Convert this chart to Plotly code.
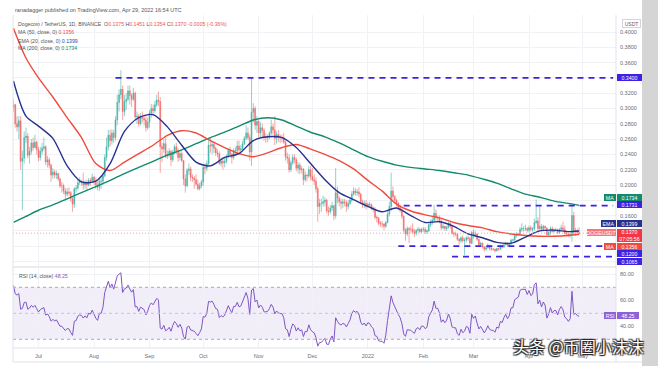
import plotly.graph_objects as go
import pandas as pd

# ---------------- data ----------------
START_DATE = "2021-06-01"
FIRST_OPEN = 0.322

close_2021_06 = [0.383, 0.421, 0.405, 0.372, 0.355, 0.361, 0.336, 0.335, 0.335, 0.318,
                 0.321, 0.316, 0.331, 0.326, 0.318, 0.301, 0.305, 0.280, 0.276, 0.284,
                 0.231, 0.235, 0.262, 0.264, 0.239, 0.244, 0.255, 0.249, 0.256, 0.246]
high_2021_06 = [0.40, 0.43, 0.44, 0.41, 0.38, 0.37, 0.37, 0.34, 0.345, 0.34,
                0.33, 0.33, 0.335, 0.34, 0.335, 0.32, 0.312, 0.306, 0.29, 0.29,
                0.29, 0.245, 0.27, 0.275, 0.268, 0.25, 0.26, 0.262, 0.266, 0.258]
low_2021_06 = [0.36, 0.38, 0.40, 0.36, 0.34, 0.35, 0.33, 0.30, 0.31, 0.31,
               0.31, 0.30, 0.31, 0.32, 0.31, 0.295, 0.295, 0.275, 0.27, 0.26,
               0.22, 0.167, 0.228, 0.255, 0.235, 0.228, 0.24, 0.245, 0.248, 0.24]

close_2021_07 = [0.236, 0.244, 0.248, 0.250, 0.230, 0.233, 0.226, 0.213, 0.217, 0.213,
                 0.215, 0.208, 0.199, 0.199, 0.192, 0.188, 0.191, 0.190, 0.182, 0.175,
                 0.195, 0.196, 0.203, 0.205, 0.204, 0.200, 0.203, 0.200, 0.206, 0.205, 0.210]
high_2021_07 = [0.250, 0.250, 0.255, 0.262, 0.252, 0.238, 0.236, 0.228, 0.222, 0.220,
                0.219, 0.216, 0.210, 0.204, 0.202, 0.196, 0.196, 0.197, 0.192, 0.185,
                0.197, 0.200, 0.207, 0.210, 0.207, 0.216, 0.206, 0.207, 0.209, 0.209, 0.215]
low_2021_07 = [0.231, 0.232, 0.240, 0.245, 0.226, 0.223, 0.222, 0.204, 0.208, 0.209,
               0.208, 0.205, 0.196, 0.190, 0.188, 0.180, 0.185, 0.186, 0.178, 0.165,
               0.170, 0.190, 0.193, 0.200, 0.199, 0.194, 0.195, 0.193, 0.198, 0.199, 0.203]

close_2021_08 = [0.204, 0.200, 0.197, 0.205, 0.205, 0.212, 0.236, 0.250, 0.265, 0.258,
                 0.268, 0.262, 0.285, 0.308, 0.318, 0.325, 0.296, 0.309, 0.312, 0.323,
                 0.317, 0.312, 0.320, 0.289, 0.290, 0.280, 0.290, 0.287, 0.285, 0.275, 0.282]
high_2021_08 = [0.212, 0.210, 0.205, 0.208, 0.210, 0.215, 0.240, 0.262, 0.272, 0.272,
                0.273, 0.272, 0.290, 0.318, 0.325, 0.350, 0.330, 0.318, 0.320, 0.330,
                0.330, 0.320, 0.327, 0.322, 0.296, 0.293, 0.294, 0.296, 0.292, 0.290, 0.288]
low_2021_08 = [0.200, 0.195, 0.193, 0.192, 0.195, 0.200, 0.210, 0.232, 0.245, 0.250,
               0.253, 0.255, 0.258, 0.278, 0.296, 0.312, 0.285, 0.290, 0.298, 0.310,
               0.305, 0.302, 0.310, 0.285, 0.280, 0.276, 0.278, 0.282, 0.278, 0.270, 0.272]

close_2021_09 = [0.294, 0.300, 0.297, 0.305, 0.311, 0.309, 0.250, 0.247, 0.254, 0.238,
                 0.240, 0.244, 0.233, 0.243, 0.250, 0.245, 0.236, 0.241, 0.232, 0.208,
                 0.199, 0.219, 0.221, 0.210, 0.209, 0.207, 0.201, 0.195, 0.199, 0.204]
high_2021_09 = [0.298, 0.306, 0.305, 0.310, 0.318, 0.322, 0.315, 0.255, 0.260, 0.262,
                0.245, 0.248, 0.246, 0.246, 0.253, 0.255, 0.248, 0.246, 0.244, 0.232,
                0.214, 0.222, 0.228, 0.224, 0.214, 0.212, 0.214, 0.207, 0.203, 0.207]
low_2021_09 = [0.275, 0.288, 0.290, 0.294, 0.302, 0.303, 0.216, 0.230, 0.242, 0.235,
               0.234, 0.236, 0.225, 0.230, 0.240, 0.240, 0.230, 0.232, 0.230, 0.200,
               0.190, 0.197, 0.213, 0.205, 0.204, 0.195, 0.199, 0.193, 0.193, 0.196]

close_2021_10 = [0.223, 0.222, 0.228, 0.252, 0.251, 0.253, 0.248, 0.242, 0.241, 0.228,
                 0.231, 0.229, 0.231, 0.237, 0.245, 0.240, 0.236, 0.245, 0.245, 0.251,
                 0.246, 0.247, 0.254, 0.261, 0.268, 0.262, 0.243, 0.295, 0.300, 0.278, 0.283]
high_2021_10 = [0.228, 0.228, 0.232, 0.258, 0.262, 0.258, 0.257, 0.250, 0.247, 0.244,
                0.236, 0.236, 0.236, 0.240, 0.248, 0.250, 0.242, 0.248, 0.250, 0.258,
                0.258, 0.252, 0.258, 0.264, 0.278, 0.275, 0.266, 0.341, 0.307, 0.303, 0.290]
low_2021_10 = [0.199, 0.214, 0.218, 0.226, 0.242, 0.240, 0.242, 0.238, 0.236, 0.226,
               0.224, 0.220, 0.223, 0.228, 0.235, 0.236, 0.228, 0.233, 0.238, 0.240,
               0.240, 0.240, 0.245, 0.252, 0.259, 0.259, 0.232, 0.225, 0.282, 0.272, 0.268]

close_2021_11 = [0.268, 0.275, 0.271, 0.262, 0.262, 0.263, 0.268, 0.276, 0.272, 0.261,
                 0.266, 0.263, 0.262, 0.262, 0.256, 0.237, 0.235, 0.220, 0.229, 0.236,
                 0.233, 0.222, 0.226, 0.220, 0.221, 0.207, 0.213, 0.212, 0.220, 0.211]
high_2021_11 = [0.285, 0.282, 0.280, 0.274, 0.268, 0.266, 0.270, 0.285, 0.280, 0.290,
                0.270, 0.272, 0.266, 0.266, 0.268, 0.258, 0.242, 0.240, 0.232, 0.240,
                0.240, 0.236, 0.230, 0.229, 0.225, 0.222, 0.218, 0.215, 0.225, 0.225]
low_2021_11 = [0.262, 0.262, 0.262, 0.258, 0.255, 0.256, 0.260, 0.265, 0.266, 0.252,
               0.254, 0.256, 0.255, 0.256, 0.254, 0.232, 0.228, 0.216, 0.217, 0.226,
               0.228, 0.218, 0.215, 0.214, 0.215, 0.200, 0.204, 0.205, 0.209, 0.206]

close_2021_12 = [0.207, 0.205, 0.195, 0.172, 0.176, 0.176, 0.178, 0.180, 0.166, 0.165,
                 0.170, 0.173, 0.160, 0.190, 0.183, 0.178, 0.176, 0.178, 0.177, 0.172,
                 0.176, 0.180, 0.188, 0.192, 0.190, 0.191, 0.188, 0.178, 0.174, 0.176, 0.172]
high_2021_12 = [0.222, 0.214, 0.210, 0.198, 0.182, 0.182, 0.186, 0.184, 0.182, 0.172,
                0.174, 0.178, 0.174, 0.222, 0.198, 0.186, 0.182, 0.182, 0.182, 0.180,
                0.180, 0.184, 0.192, 0.197, 0.196, 0.195, 0.197, 0.190, 0.181, 0.180, 0.180]
low_2021_12 = [0.205, 0.200, 0.190, 0.152, 0.162, 0.165, 0.172, 0.172, 0.163, 0.160,
               0.162, 0.166, 0.154, 0.156, 0.176, 0.172, 0.168, 0.170, 0.172, 0.165,
               0.168, 0.174, 0.178, 0.186, 0.186, 0.186, 0.184, 0.175, 0.170, 0.170, 0.168]

close_2022_01 = [0.175, 0.174, 0.170, 0.168, 0.158, 0.157, 0.150, 0.149, 0.149, 0.146,
                 0.151, 0.162, 0.172, 0.192, 0.185, 0.180, 0.176, 0.171, 0.167, 0.159,
                 0.141, 0.136, 0.143, 0.142, 0.142, 0.139, 0.137, 0.141, 0.142, 0.139, 0.142]
high_2022_01 = [0.177, 0.178, 0.176, 0.172, 0.171, 0.160, 0.158, 0.153, 0.153, 0.150,
                0.153, 0.166, 0.178, 0.216, 0.198, 0.187, 0.182, 0.178, 0.174, 0.170,
                0.160, 0.144, 0.146, 0.145, 0.147, 0.150, 0.143, 0.142, 0.145, 0.144, 0.144]
low_2022_01 = [0.170, 0.170, 0.167, 0.164, 0.155, 0.151, 0.147, 0.145, 0.144, 0.141,
               0.144, 0.150, 0.159, 0.166, 0.180, 0.176, 0.172, 0.167, 0.164, 0.156,
               0.138, 0.127, 0.133, 0.124, 0.137, 0.136, 0.132, 0.134, 0.138, 0.137, 0.137]

close_2022_02 = [0.142, 0.139, 0.140, 0.148, 0.151, 0.154, 0.163, 0.157, 0.157, 0.153,
                 0.144, 0.146, 0.143, 0.145, 0.150, 0.146, 0.137, 0.136, 0.136, 0.129,
                 0.127, 0.131, 0.127, 0.128, 0.131, 0.130, 0.124, 0.138]
high_2022_02 = [0.145, 0.145, 0.142, 0.150, 0.155, 0.158, 0.174, 0.168, 0.160, 0.160,
                0.155, 0.149, 0.147, 0.147, 0.152, 0.152, 0.148, 0.139, 0.139, 0.137,
                0.131, 0.133, 0.134, 0.131, 0.133, 0.134, 0.132, 0.140]
low_2022_02 = [0.139, 0.136, 0.136, 0.138, 0.145, 0.148, 0.152, 0.152, 0.152, 0.150,
               0.141, 0.142, 0.140, 0.140, 0.143, 0.143, 0.135, 0.132, 0.133, 0.127,
               0.122, 0.124, 0.125, 0.1085, 0.125, 0.127, 0.122, 0.123]

close_2022_03 = [0.134, 0.136, 0.129, 0.122, 0.124, 0.119, 0.116, 0.118, 0.121, 0.117,
                 0.116, 0.116, 0.114, 0.117, 0.116, 0.120, 0.119, 0.122, 0.124, 0.121,
                 0.123, 0.128, 0.128, 0.134, 0.135, 0.136, 0.142, 0.143, 0.143, 0.143, 0.141]
high_2022_03 = [0.142, 0.140, 0.137, 0.130, 0.126, 0.125, 0.120, 0.120, 0.124, 0.122,
                0.119, 0.118, 0.117, 0.118, 0.118, 0.122, 0.122, 0.124, 0.126, 0.125,
                0.124, 0.130, 0.130, 0.137, 0.138, 0.137, 0.145, 0.150, 0.146, 0.148, 0.145]
low_2022_03 = [0.130, 0.132, 0.127, 0.120, 0.121, 0.117, 0.113, 0.114, 0.117, 0.114,
               0.114, 0.114, 0.112, 0.113, 0.114, 0.115, 0.117, 0.118, 0.121, 0.119,
               0.120, 0.122, 0.126, 0.127, 0.131, 0.133, 0.135, 0.139, 0.139, 0.140, 0.138]

close_2022_04 = [0.144, 0.142, 0.143, 0.151, 0.153, 0.143, 0.146, 0.142, 0.146, 0.144,
                 0.135, 0.138, 0.143, 0.139, 0.141, 0.141, 0.138, 0.142, 0.144, 0.142,
                 0.137, 0.136, 0.134, 0.1355, 0.160, 0.139, 0.140, 0.1375, 0.1370]
high_2022_04 = [0.147, 0.147, 0.145, 0.156, 0.181, 0.158, 0.172, 0.149, 0.148, 0.147,
                0.144, 0.141, 0.146, 0.146, 0.143, 0.144, 0.143, 0.144, 0.148, 0.152,
                0.147, 0.140, 0.138, 0.138, 0.175, 0.165, 0.144, 0.143, 0.1451]
low_2022_04 = [0.138, 0.139, 0.139, 0.140, 0.149, 0.140, 0.141, 0.140, 0.141, 0.142,
               0.132, 0.132, 0.135, 0.138, 0.138, 0.139, 0.136, 0.136, 0.140, 0.140,
               0.135, 0.134, 0.132, 0.131, 0.126, 0.135, 0.134, 0.135, 0.1354]

# moving averages at sample dates
ma_dates = ["2021-06-17", "2021-06-24", "2021-07-01", "2021-07-09", "2021-07-17", "2021-07-25",
            "2021-08-02", "2021-08-10", "2021-08-18", "2021-08-26", "2021-09-03", "2021-09-11",
            "2021-09-19", "2021-09-27", "2021-10-05", "2021-10-13", "2021-10-21", "2021-10-29",
            "2021-11-06", "2021-11-14", "2021-11-22", "2021-11-30", "2021-12-08", "2021-12-16",
            "2021-12-24", "2022-01-01", "2022-01-09", "2022-01-17", "2022-01-25", "2022-02-02",
            "2022-02-10", "2022-02-18", "2022-02-26", "2022-03-06", "2022-03-14", "2022-03-22",
            "2022-03-30", "2022-04-07", "2022-04-15", "2022-04-23", "2022-04-29"]
ma50_values = [0.405, 0.366, 0.340, 0.315, 0.288, 0.262, 0.228, 0.219, 0.230, 0.241,
               0.252, 0.265, 0.271, 0.268, 0.258, 0.249, 0.241, 0.237, 0.242, 0.249,
               0.253, 0.247, 0.240, 0.232, 0.221, 0.206, 0.192, 0.175, 0.166, 0.161,
               0.157, 0.151, 0.147, 0.144, 0.139, 0.136, 0.134, 0.133, 0.133, 0.134, 0.1356]
ema20_values = [0.336, 0.290, 0.277, 0.261, 0.225, 0.204, 0.205, 0.228, 0.270, 0.288,
                0.292, 0.276, 0.252, 0.230, 0.225, 0.236, 0.241, 0.258, 0.263, 0.262,
                0.249, 0.228, 0.207, 0.190, 0.181, 0.172, 0.165, 0.170, 0.160, 0.151,
                0.152, 0.146, 0.136, 0.131, 0.125, 0.124, 0.132, 0.140, 0.141, 0.139, 0.1399]
ma200_values = [0.151, 0.159, 0.167, 0.174, 0.182, 0.190, 0.198, 0.206, 0.215, 0.223,
                0.231, 0.239, 0.246, 0.254, 0.262, 0.269, 0.277, 0.285, 0.288, 0.285,
                0.277, 0.269, 0.263, 0.255, 0.246, 0.237, 0.231, 0.226, 0.223, 0.221,
                0.219, 0.216, 0.213, 0.208, 0.2025, 0.195, 0.188, 0.184, 0.179, 0.176, 0.1734]
rsi_last_shown = 48.25   # value printed on the chart's RSI legend/scale

# horizontal levels drawn on the chart
level_prices = [0.34, 0.1731, 0.12, 0.1065]
level_starts = ["2021-08-13", "2022-01-21", "2022-01-18", "2022-02-17"]

month_ticks = ["2021-07-01", "2021-08-01", "2021-09-01", "2021-10-01", "2021-11-01", "2021-12-01",
               "2022-01-01", "2022-02-01", "2022-03-01", "2022-04-01", "2022-05-01"]
month_labels = ["Jul", "Aug", "Sep", "Oct", "Nov", "Dec", "2022", "Feb", "Mar", "Apr", "May"]

price_ticks = [0.10, 0.12, 0.14, 0.16, 0.18, 0.20, 0.22, 0.24, 0.26, 0.28, 0.30, 0.32, 0.34, 0.36, 0.38, 0.40]
price_tick_text = ["", "", "", "0.1600", "", "0.2000", "0.2200", "0.2400", "0.2600", "0.2800",
                   "0.3000", "0.3200", "", "0.3600", "0.3800", "0.4000"]
rsi_ticks = [40, 60, 80]
rsi_tick_text = ["40.00", "60.00", "80.00"]
countdown_text = "07:05:56"

# ---------------- assemble ----------------
closes = (close_2021_06 + close_2021_07 + close_2021_08 + close_2021_09 + close_2021_10 +
          close_2021_11 + close_2021_12 + close_2022_01 + close_2022_02 + close_2022_03 + close_2022_04)
highs_raw = (high_2021_06 + high_2021_07 + high_2021_08 + high_2021_09 + high_2021_10 +
             high_2021_11 + high_2021_12 + high_2022_01 + high_2022_02 + high_2022_03 + high_2022_04)
lows_raw = (low_2021_06 + low_2021_07 + low_2021_08 + low_2021_09 + low_2021_10 +
            low_2021_11 + low_2021_12 + low_2022_01 + low_2022_02 + low_2022_03 + low_2022_04)
dates = pd.date_range(START_DATE, periods=len(closes), freq="D")
opens = [FIRST_OPEN] + closes[:-1]
highs = [max(h, o, c) for h, o, c in zip(highs_raw, opens, closes)]
lows = [min(l, o, c) for l, o, c in zip(lows_raw, opens, closes)]

s = pd.Series(closes)
d = s.diff()
avg_gain = d.clip(lower=0).ewm(alpha=1 / 14, adjust=False).mean()
avg_loss = (-d.clip(upper=0)).ewm(alpha=1 / 14, adjust=False).mean()
rsi = 100 - 100 / (1 + avg_gain / avg_loss)

# ---------------- styling ----------------
UP, DOWN = "#26a69a", "#ef5350"
C_MA50, C_EMA20, C_MA200 = "#ef4b3e", "#27318f", "#138a6c"
C_LEVEL = "#3c22e2"
C_RSI = "#7e57c2"
C_RSI_TAG = "#8d62d9"
TXT = "#5d606b"
FONT = "Liberation Sans, Arial, sans-serif"

L, R, T, B = 13, 616, 15, 348


def px(x):
    return (x - L) / (R - L)


def py(y):
    return (B - y) / (B - T)


X_RANGE = ["2021-06-16 18:00:00", "2022-05-19 14:24:00"]
PRICE_RANGE = [0.094118, 0.422222]
RSI_RANGE = [23.3, 84.85]

fig = go.Figure()
fig.add_trace(go.Candlestick(
    x=dates, open=opens, high=highs, low=lows, close=closes,
    increasing=dict(line=dict(color=UP, width=0.6), fillcolor=UP),
    decreasing=dict(line=dict(color=DOWN, width=0.6), fillcolor=DOWN),
    xaxis="x", yaxis="y", hoverinfo="skip", showlegend=False, opacity=0.85))

for vals, col in [(ma200_values, C_MA200), (ma50_values, C_MA50), (ema20_values, C_EMA20)]:
    fig.add_trace(go.Scatter(x=ma_dates, y=vals, mode="lines", xaxis="x", yaxis="y",
                             line=dict(color=col, width=1.4, shape="spline", smoothing=0.8),
                             hoverinfo="skip", showlegend=False))

fig.add_trace(go.Scatter(x=dates, y=rsi, mode="lines", xaxis="x2", yaxis="y2",
                         line=dict(color=C_RSI, width=1), hoverinfo="skip", showlegend=False))

shapes = []
# RSI band and guides
shapes.append(dict(type="rect", xref="paper", x0=0, x1=1, yref="y2", y0=30, y1=70,
                   fillcolor="rgba(126,87,194,0.10)", line=dict(width=0), layer="below"))
for lv, colr in [(70, "#a8abb5"), (50, "#c3c5cc"), (30, "#a8abb5")]:
    shapes.append(dict(type="line", xref="paper", x0=0, x1=1, yref="y2", y0=lv, y1=lv,
                       line=dict(color=colr, width=1, dash="3px,3px")))
# last price dotted line
shapes.append(dict(type="line", xref="paper", x0=0, x1=1, yref="y", y0=closes[-1], y1=closes[-1],
                   line=dict(color="#f4a3a3", width=1, dash="1px,2px")))
# horizontal levels
for lp, ls in zip(level_prices, level_starts):
    shapes.append(dict(type="line", xref="x", x0=ls, x1="2022-05-18", yref="y", y0=lp, y1=lp,
                       line=dict(color=C_LEVEL, width=1.7, dash="6px,5px")))
# pane separators / borders
shapes.append(dict(type="line", xref="paper", x0=0, x1=1, yref="paper", y0=py(267), y1=py(267),
                   line=dict(color="#d6d9e0", width=1)))
shapes.append(dict(type="line", xref="paper", x0=1, x1=1, yref="paper", y0=py(362), y1=1,
                   line=dict(color="#e0e3eb", width=1)))
shapes.append(dict(type="line", xref="paper", x0=0, x1=1, yref="paper", y0=0, y1=0,
                   line=dict(color="#e0e3eb", width=1)))
shapes.append(dict(type="line", xref="paper", x0=px(13), x1=px(642), yref="paper", y0=py(362), y1=py(362),
                   line=dict(color="#e0e3eb", width=1)))
shapes.append(dict(type="line", xref="paper", x0=0, x1=0, yref="paper", y0=py(362), y1=1,
                   line=dict(color="#e0e3eb", width=1)))
# grey page edge on the right
shapes.append(dict(type="rect", xref="paper", x0=px(642), x1=px(660), yref="paper", y0=py(368), y1=py(-2),
                   fillcolor="#d5d5d5", line=dict(width=0)))

ann = []


def label(text, x, y, bg, anchor, w, h=7, fc="white", size=5.2, border=None):
    ann.append(dict(text=text, xref="paper", yref="paper", x=px(x), y=py(y), xanchor=anchor,
                    yanchor="middle", showarrow=False, bgcolor=bg, width=w, height=h,
                    borderpad=0, align="center", bordercolor=border or bg, borderwidth=0 if border is None else 1,
                    font=dict(family=FONT, size=size, color=fc)))


o, h, l, c = opens[-1], highs[-1], lows[-1], closes[-1]
chg = c - closes[-2]
pct = chg / closes[-2] * 100
red = DOWN if chg < 0 else UP


def span(v, col):
    return f'<span style="color:{col}">{v}</span>'


ann.append(dict(text="ranadagger published on TradingView.com, Apr 29, 2022 16:54 UTC", xref="paper", yref="paper",
                x=px(13), y=py(10.5), xanchor="left", yanchor="middle", showarrow=False,
                font=dict(family=FONT, size=5.5, color="#555")))
line1 = ("Dogecoin / TetherUS, 1D, BINANCE\u00a0\u00a0O" + span(f"{o:.4f}", red) + "\u00a0H" + span(f"{h:.4f}", red)
         + "\u00a0L" + span(f"{l:.4f}", red) + "\u00a0C" + span(f"{c:.4f}", red) + "\u00a0"
         + span(f"{chg:.4f} ({pct:.2f}%)", red))
legend_rows = [(line1, 24),
               ("MA (50, close, 0)\u00a0" + span(f"{ma50_values[-1]:.4f}", C_MA50), 32.5),
               ("EMA (20, close, 0)\u00a0" + span(f"{ema20_values[-1]:.4f}", "#2f3fb5"), 40.5),
               ("MA (200, close, 0)\u00a0" + span(f"{ma200_values[-1]:.4f}", C_MA200), 48.3)]
for t, yy in legend_rows:
    ann.append(dict(text=t, xref="paper", yref="paper", x=px(16), y=py(yy), xanchor="left", yanchor="middle",
                    showarrow=False, font=dict(family=FONT, size=5.2, color="#555")))
ann.append(dict(text="RSI (14, close)\u00a0" + span(f"{rsi_last_shown:.2f}", C_RSI), xref="paper", yref="paper",
                x=px(17), y=py(275.5), xanchor="left", yanchor="middle", showarrow=False,
                font=dict(family=FONT, size=5.2, color="#555")))

# price-scale tags
label("USDT", 622, 23.5, "white", "left", 17, 7, fc=TXT, size=5, border="#d1d4dc")
label(f"{level_prices[0]:.4f}", 616.5, 77, C_LEVEL, "left", 25)
label("MA", 615.5, 197.7, C_MA200, "right", 12)
label(f"{ma200_values[-1]:.4f}", 616.5, 197.7, C_MA200, "left", 25)
label(f"{level_prices[1]:.4f}", 616.5, 204.7, C_LEVEL, "left", 25)
label("EMA", 615.5, 224, C_EMA20, "right", 15)
label(f"{ema20_values[-1]:.4f}", 616.5, 224, C_EMA20, "left", 25)
label("DOGEUSDT", 615.5, 232.5, "#f6767a", "right", 29)
label(f"{c:.4f}<br>{countdown_text}", 616.5, 235, "#f23645", "left", 25, h=13)
label("MA", 615.5, 246.7, C_MA50, "right", 12)
label(f"{ma50_values[-1]:.4f}", 616.5, 246.7, C_MA50, "left", 25)
label(f"{level_prices[2]:.4f}", 616.5, 254, C_LEVEL, "left", 25)
label(f"{level_prices[3]:.4f}", 616.5, 261.3, C_LEVEL, "left", 25)
rsi_y = 313.3 - (rsi_last_shown - 50) * 1.3
label("RSI", 615.5, rsi_y, C_RSI_TAG, "right", 12)
label(f"{rsi_last_shown:.2f}", 616.5, rsi_y, C_RSI_TAG, "left", 22)

# watermark
ann.append(dict(text="头条 @币圈小沫沫", xref="paper", yref="paper", x=px(578.5), y=py(345.5),
                xanchor="center", yanchor="middle", showarrow=False,
                font=dict(family="Noto Sans CJK SC", size=16, color="white",
                          shadow="1px 1px 1px #222, -1px -1px 1px #222, 1px -1px 1px #222, -1px 1px 1px #222")))

fig.update_layout(
    width=658, height=366,
    margin=dict(l=L, r=658 - R, t=T, b=366 - B, pad=0, autoexpand=False),
    paper_bgcolor="white", plot_bgcolor="white", showlegend=False,
    font=dict(family=FONT, size=5.5, color=TXT),
    xaxis=dict(type="date", range=X_RANGE, domain=[0, 1], anchor="y", showticklabels=False,
               tickvals=month_ticks, showgrid=True, gridcolor="#f0f2f6", zeroline=False, showline=False,
               rangeslider=dict(visible=False), fixedrange=True, automargin=False),
    xaxis2=dict(type="date", range=X_RANGE, domain=[0, 1], anchor="y2", matches="x",
                tickvals=month_ticks, ticktext=month_labels, tickfont=dict(family=FONT, size=5.5, color="#6a6d78"),
                showgrid=True, gridcolor="#f0f2f6", zeroline=False, showline=False, ticks="",
                ticklabelstandoff=3, automargin=False),
    yaxis=dict(domain=[py(266), 1], range=PRICE_RANGE, side="right", anchor="x",
               tickvals=price_ticks, ticktext=price_tick_text, tickfont=dict(family=FONT, size=5.5, color="#6a6d78"),
               showgrid=True, gridcolor="#f0f2f6", zeroline=False, showline=False, ticks="",
               ticklabelstandoff=3, automargin=False),
    yaxis2=dict(domain=[0, py(268)], range=RSI_RANGE, side="right", anchor="x2",
                tickvals=rsi_ticks, ticktext=rsi_tick_text, tickfont=dict(family=FONT, size=5.5, color="#6a6d78"),
                showgrid=True, gridcolor="#f0f2f6", zeroline=False, showline=False, ticks="",
                ticklabelstandoff=3, automargin=False),
    shapes=shapes, annotations=ann,
)

fig.write_html("out.html", config={"displayModeBar": False, "staticPlot": True},
               post_script="document.body.style.margin='0px';document.body.style.overflow='hidden';")
